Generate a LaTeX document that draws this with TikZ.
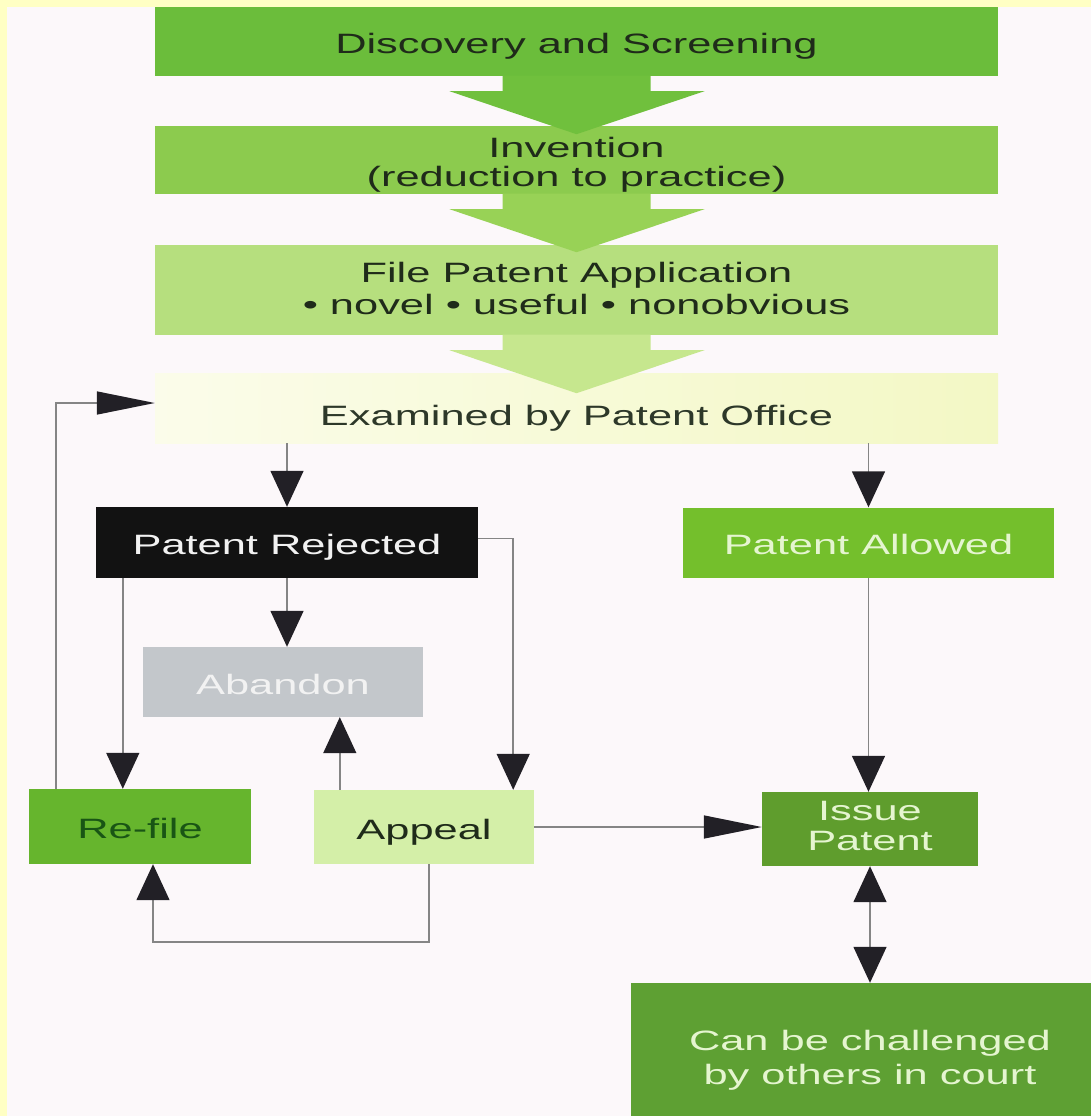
\documentclass[tikz,border=0pt]{standalone}
\usepackage{fontspec}
\newfontfamily\diagfont[FakeStretch=1.55]{Liberation Sans}
\usetikzlibrary{arrows.meta,calc}

\definecolor{bgpink}{HTML}{FCF8FA}
\definecolor{frameyellow}{HTML}{FFFFC4}
\definecolor{cDisc}{HTML}{6BBD3B}
\definecolor{cInv}{HTML}{8CCB4E}
\definecolor{cFile}{HTML}{B6DF7E}
\definecolor{cChA}{HTML}{70C03D}
\definecolor{cChB}{HTML}{98D256}
\definecolor{cChC}{HTML}{C6E78E}
\definecolor{examL}{HTML}{FBFCEA}
\definecolor{examR}{HTML}{F3F8C5}
\definecolor{cRej}{HTML}{121212}
\definecolor{cAllow}{HTML}{74BF2C}
\definecolor{cAband}{HTML}{C3C7CB}
\definecolor{cRefile}{HTML}{66B52D}
\definecolor{cAppeal}{HTML}{D4EFA8}
\definecolor{cIssue}{HTML}{5F9D2D}
\definecolor{cCourt}{HTML}{5EA033}
\definecolor{txDark}{HTML}{1F2B1A}
\definecolor{txLight}{HTML}{E5F5D0}
\definecolor{linegray}{HTML}{858585}
\definecolor{tipdark}{HTML}{222026}

\tikzset{
  box/.style={rectangle, inner sep=0pt,
    font=\diagfont\fontsize{28}{30}\selectfont},
  oneline/.style={text height=24pt, text depth=0pt},
  link/.style={draw=linegray, line width=1.5pt},
  Vt/.tip={Triangle[length=36pt,width=33pt,color=tipdark]},
  Ht/.tip={Triangle[length=58pt,width=23pt,color=tipdark]},
}

% two centred lines, raised by #1 without changing the node size
\newcommand{\pairlines}[4]{%
  \raisebox{#1}[\height][\depth]{%
    \begin{tabular}{@{}c@{}}#3\\[#2]#4\end{tabular}}}

% broad arrow dropping from the bottom edge of a step box
\newcommand{\dropchevron}[2]{%
  \begin{scope}[shift={(#2)}]
    \fill[#1] (-74,-0.6) -- (-74,15) -- (-127,15) -- (0,58) -- (128,15)
      -- (74,15) -- (74,-0.6) -- cycle;
  \end{scope}}

\begin{document}
\begin{tikzpicture}[x=1pt,y=-1pt]
% page background and frame strips
\fill[bgpink] (0,0) rectangle (1091,1116);
\fill[frameyellow] (0,0) rectangle (1091,7);
\fill[frameyellow] (0,0) rectangle (7,1116);
\useasboundingbox (0,0) rectangle (1091,1116);

% main sequence
\node[box, oneline, fill=cDisc, text=txDark, minimum width=843pt, minimum height=69pt]
  (disc) at (576.5,41.5) {Discovery and Screening};
\node[box, fill=cInv, text=txDark, minimum width=843pt, minimum height=68pt]
  (inv) at (576.5,160) {\pairlines{-6pt}{-1pt}{Invention}{(reduction to practice)}};
\node[box, fill=cFile, text=txDark, minimum width=843pt, minimum height=90pt]
  (file) at (576.5,290) {\pairlines{-2.5pt}{2pt}{File Patent Application}{\textbullet{} novel \textbullet{} useful \textbullet{} nonobvious}};
\node[box, left color=examL, right color=examR, text=txDark!85!gray,
  minimum width=843pt, minimum height=70pt, text height=34pt, text depth=0pt]
  (exam) at (576.5,408) {Examined by Patent Office};

\dropchevron{cChA}{disc.south}
\dropchevron{cChB}{inv.south}
\dropchevron{cChC}{file.south}

% outcomes
\node[box, oneline, fill=cRej, text=white!95!black, minimum width=382pt, minimum height=71pt]
  (rej) at (287,542.5) {Patent Rejected};
\node[box, oneline, fill=cAllow, text=txLight, minimum width=371pt, minimum height=70pt]
  (allow) at (868.5,542.5) {Patent Allowed};
\node[box, oneline, fill=cAband, text=white!95!black, minimum width=280pt, minimum height=70pt]
  (abandon) at (283,682) {Abandon};
\node[box, oneline, fill=cRefile, text=txDark!80!green, minimum width=222pt, minimum height=75pt]
  (refile) at (140,826.5) {Re-file};
\node[box, oneline, fill=cAppeal, text=txDark, minimum width=220pt, minimum height=74pt]
  (appeal) at (424,827) {Appeal};
\node[box, fill=cIssue, text=txLight, minimum width=216pt, minimum height=74pt]
  (issue) at (870,829) {\pairlines{0pt}{0pt}{Issue}{Patent}};
\node[box, fill=cCourt, text=txLight, minimum width=478pt, minimum height=148pt]
  (court) at (870,1057) {\pairlines{-4pt}{4pt}{Can be challenged}{by others in court}};

% helper points on box edges
\coordinate (rjL) at ([xshift=27pt]rej.south west);
\coordinate (rjE) at ([yshift=4pt]rej.east);
\coordinate (apT) at ([xshift=-21pt]appeal.north east);
\coordinate (apL) at ([xshift=26pt]appeal.north west);
\coordinate (apB) at ([xshift=5pt]appeal.south);
\coordinate (rfB) at ([xshift=13pt]refile.south);
\coordinate (rfT) at ([xshift=27pt]refile.north west);
\coordinate (exL) at ([yshift=5pt]exam.west);

% connectors
\draw[link,-Vt] (exam.south -| rej.north) -- (rej.north);
\draw[link,-Vt] (exam.south -| allow.north) -- (allow.north);
\draw[link,-Vt] (rej.south) -- (rej.south |- abandon.north);
\draw[link,-Vt] (rjL) -- (rjL |- refile.north);
\draw[link,-Vt] (rjE) -| (apT);
\draw[link,-Vt] (allow.south) -- (allow.south |- issue.north);
\draw[link,-Vt] (apL) -- (apL |- abandon.south);
\draw[link,-Ht] (appeal.east) -- (appeal.east -| issue.west);
\draw[link,-Vt] (apB) -- ++(0,78) -| (rfB);
\draw[link,-Ht] (rfT) |- (exL);
\draw[link,Vt-Vt] (issue.south) -- (issue.south |- court.north);
\end{tikzpicture}
\end{document}
